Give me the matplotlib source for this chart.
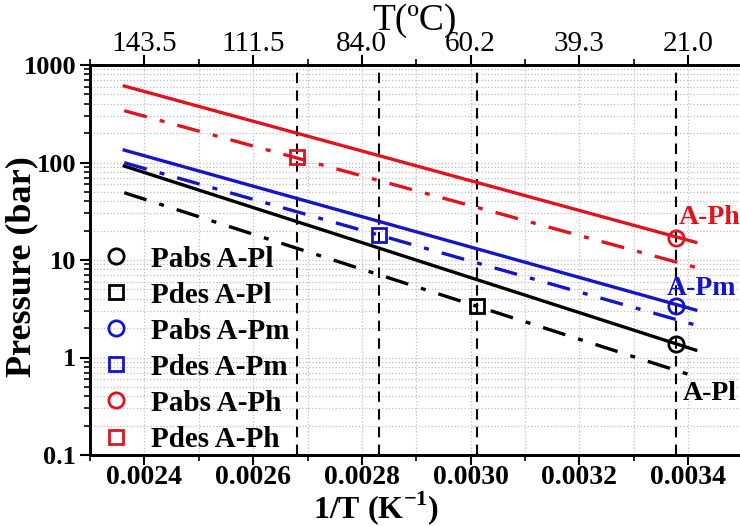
import matplotlib
matplotlib.use("Agg")
import matplotlib.pyplot as plt
from matplotlib.lines import Line2D
import numpy as np

plt.rcParams['font.family'] = ['Liberation Serif', 'DejaVu Serif']
plt.rcParams['mathtext.fontset'] = 'custom'
plt.rcParams['mathtext.rm'] = 'Liberation Serif'
plt.rcParams['mathtext.bf'] = 'Liberation Serif:bold'

# Van't Hoff lines: 1/T range (K^-1) and pressure (bar) at both ends
line_x = [0.002363, 0.003414]
abs_Pl = [92.0, 1.19]
des_Pl = [49.0, 0.635]
abs_Pm = [134.0, 3.07]
des_Pm = [99.5, 2.15]
abs_Ph = [609.0, 15.2]
des_Ph = [340.0, 8.4]

# measured points
abs_x = [0.003377, 0.003377, 0.003377]      # Pl, Pm, Ph
abs_P = [1.37, 3.4, 17.0]
des_x = [0.003011, 0.002832, 0.002680]      # Pl, Pm, Ph
des_P = [3.4, 18.0, 113.0]

series_names = ['A-Pl', 'A-Pm', 'A-Ph']
colors = ['#000000', '#1414c8', '#e0141e']

x_ticks = [0.0024, 0.0026, 0.0028, 0.0030, 0.0032, 0.0034]
x_tick_labels = ['0.0024', '0.0026', '0.0028', '0.0030', '0.0032', '0.0034']
top_tick_labels = ['143.5', '111.5', '84.0', '60.2', '39.3', '21.0']
y_ticks = [0.1, 1, 10, 100, 1000]
y_tick_labels = ['0.1', '1', '10', '100', '1000']

fig = plt.figure(figsize=(7.40, 5.26), dpi=100)
ax = fig.add_axes([90 / 740, 71 / 526, 652.5 / 740, 390 / 526])
ax.set_yscale('log')
ax.set_xlim(0.0023, 0.0035)
ax.set_ylim(0.1, 1000)

# grid
ax.set_xticks(x_ticks)
ax.set_xticks(np.arange(0.0023, 0.00351, 0.0002), minor=True)
ax.grid(True, which='both', color='#bdbdbd', linestyle=':', linewidth=0.9)
ax.set_axisbelow(True)

# vertical guides through measured points
for xv in des_x + [abs_x[0]]:
    ax.axvline(xv, color='black', linestyle=(0, (5, 3.5)), linewidth=1.5, zorder=2)

abs_lines = [abs_Pl, abs_Pm, abs_Ph]
des_lines = [des_Pl, des_Pm, des_Ph]
for i in range(3):
    c = colors[i]
    ax.plot(line_x, abs_lines[i], color=c, linewidth=2.4, zorder=3)
    ax.plot(line_x, des_lines[i], color=c, linewidth=2.4,
            linestyle=(0, (7, 4, 1.5, 4)), zorder=3)
    ax.plot(abs_x[i], abs_P[i], 'o', ms=11, mfc='none', mec=c, mew=2, zorder=4)
    ax.plot(des_x[i], des_P[i], 's', ms=10, mfc='none', mec=c, mew=2, zorder=4)

# end labels
ax.text(0.003382, 27, 'A-Ph', color=colors[2], fontsize=20, fontweight='bold',
        ha='left', va='center')
ax.text(0.003360, 5.1, 'A-Pm', color=colors[1], fontsize=20, fontweight='bold',
        ha='left', va='center')
ax.text(0.003390, 0.43, 'A-Pl', color=colors[0], fontsize=20, fontweight='bold',
        ha='left', va='center')

# axes styling
ax.set_xticklabels(x_tick_labels)
ax.set_yticks(y_ticks)
ax.set_yticklabels(y_tick_labels)
for lab in ax.get_xticklabels():
    lab.set_fontsize(20)
    lab.set_fontweight('bold')
for lab in ax.get_yticklabels():
    lab.set_fontsize(19)
    lab.set_fontweight('bold')
ax.tick_params(which='major', direction='out', length=7, width=1.5, pad=3)
ax.tick_params(axis='x', which='major', pad=0.5)
ax.tick_params(which='minor', direction='out', length=4, width=1.2)
for sp in ax.spines.values():
    sp.set_linewidth(2)
ax.spines['right'].set_visible(False)

ax.set_xlabel(r'1/T (K$^{\mathbf{-1}}$)', fontsize=23, fontweight='bold')
ax.xaxis.label.set_va('center')
ax.xaxis.set_label_coords(0.438, -0.136)
ax.set_ylabel('Pressure (bar)', fontsize=26, fontweight='bold')
ax.yaxis.label.set_va('center')
ax.yaxis.set_label_coords(-0.104, 0.482)

# top temperature axis
axt = ax.twiny()
axt.set_xlim(ax.get_xlim())
axt.set_xticks(x_ticks)
axt.set_xticks(np.arange(0.0023, 0.00351, 0.0002), minor=True)
axt.set_xticklabels(top_tick_labels, fontsize=21)
axt.tick_params(which='major', direction='out', length=7, width=1.5, pad=-1)
axt.tick_params(which='minor', direction='out', length=4, width=1.2)
for sp in axt.spines.values():
    sp.set_linewidth(2)
axt.spines['right'].set_visible(False)
axt.set_xlabel('T(ºC)', fontsize=27)
axt.xaxis.label.set_va('center')
axt.xaxis.set_label_coords(0.497, 1.113)

# legend
handles = []
labels = []
for i in range(3):
    handles.append(Line2D([], [], marker='o', ms=11, mfc='none', mec=colors[i],
                          mew=2, linestyle='none'))
    labels.append('Pabs ' + series_names[i])
    handles.append(Line2D([], [], marker='s', ms=10, mfc='none', mec=colors[i],
                          mew=2, linestyle='none'))
    labels.append('Pdes ' + series_names[i])
ax.legend(handles, labels, loc='lower left', bbox_to_anchor=(-0.022, -0.039),
          frameon=False, prop={'size': 21, 'weight': 'bold'},
          labelspacing=0.31, handletextpad=0.4, handlelength=1.6, borderaxespad=0.2)

fig.savefig('out.png', dpi=100)
